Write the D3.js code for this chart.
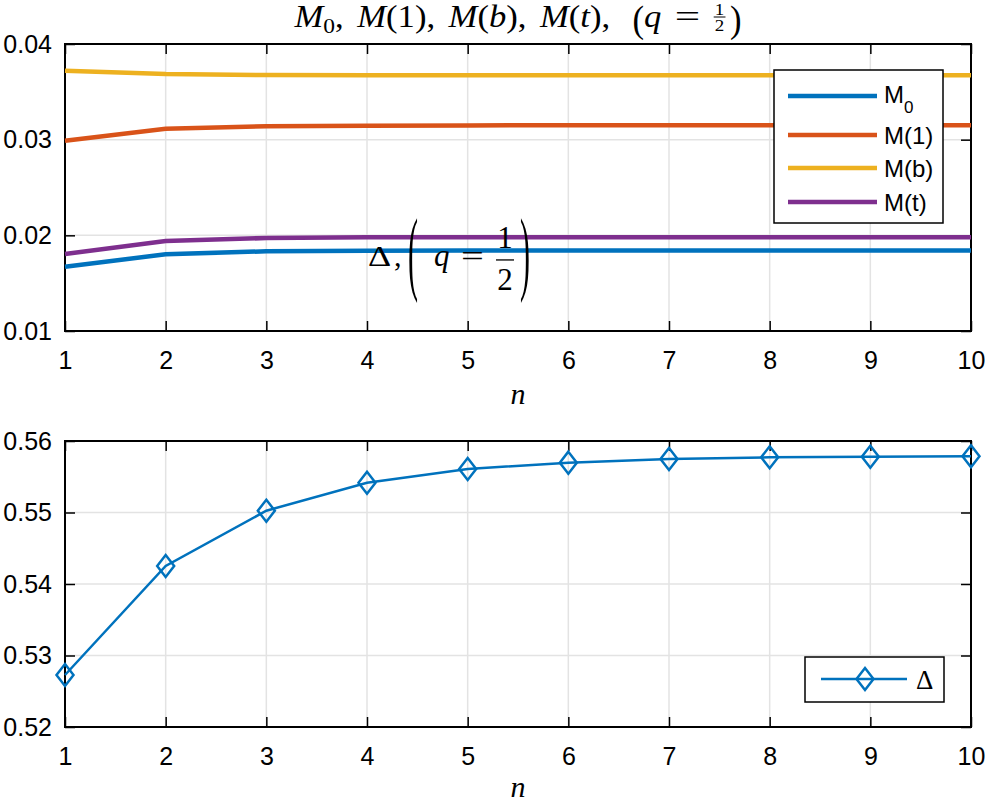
<!DOCTYPE html>
<html>
<head>
<meta charset="utf-8">
<script src="https://cdn.jsdelivr.net/npm/d3@7/dist/d3.min.js"></script>
<style>
  body { margin: 0; background: #fff; }
  text { font-family: "Liberation Sans", Arial, sans-serif; }
  .math text, text.math { font-family: "Liberation Serif", "DejaVu Serif", serif; }
</style>
</head>
<body>
<svg id="chart" width="985" height="802"></svg>
<script>
// data
const nValues = [1, 2, 3, 4, 5, 6, 7, 8, 9, 10];
const m0 = [0.01672, 0.01802, 0.01833, 0.01840, 0.01841, 0.01841, 0.01841, 0.01841, 0.01841, 0.01841];
const m1 = [0.02989, 0.03115, 0.03140, 0.03146, 0.03149, 0.03150, 0.03150, 0.03150, 0.03150, 0.03150];
const mb = [0.03721, 0.03686, 0.03676, 0.03674, 0.03673, 0.03673, 0.03673, 0.03673, 0.03673, 0.03673];
const mt = [0.01805, 0.01941, 0.01972, 0.01979, 0.01980, 0.01981, 0.01981, 0.01981, 0.01981, 0.01981];
const delta = [0.52727, 0.54252, 0.55025, 0.55417, 0.55608, 0.55697, 0.55748, 0.55772, 0.55780, 0.55786];

const topYTicks = [0.01, 0.02, 0.03, 0.04];
const bottomYTicks = [0.52, 0.53, 0.54, 0.55, 0.56];
const seriesNames = ["M", "M(1)", "M(b)", "M(t)"];
const seriesColors = ["#0072BD", "#D95319", "#EDB120", "#7E2F8E"];
const topSeries = [m0, m1, mb, mt];

const svg = d3.select("#chart");
const left = 65, right = 971;
const topBox = { top: 44, bottom: 331 };
const botBox = { top: 441, bottom: 727 };

const x = d3.scaleLinear().domain([1, 10]).range([left, right]);
const yTop = d3.scaleLinear().domain([0.01, 0.04]).range([topBox.bottom, topBox.top]);
const yBot = d3.scaleLinear().domain([0.52, 0.56]).range([botBox.bottom, botBox.top]);

function drawFrame(y, box, yTicks, fmt) {
  // grid
  const grid = svg.append("g");
  grid.selectAll(".gx").data(nValues.slice(1, -1)).enter().append("line")
    .attr("x1", d => x(d)).attr("x2", d => x(d))
    .attr("y1", box.top).attr("y2", box.bottom);
  grid.selectAll(".gy").data(yTicks.slice(1, -1)).enter().append("line")
    .attr("x1", left).attr("x2", right)
    .attr("y1", d => y(d)).attr("y2", d => y(d));
  grid.selectAll("line").attr("stroke", "#e3e3e3").attr("stroke-width", 1.5);

  // axes with inward ticks, mirrored on top/right
  const axB = svg.append("g").attr("transform", `translate(0,${box.bottom})`)
    .call(d3.axisBottom(x).tickValues(nValues).tickSize(-10).tickPadding(20).tickFormat(d3.format("d")));
  const axT = svg.append("g").attr("transform", `translate(0,${box.top})`)
    .call(d3.axisTop(x).tickValues(nValues).tickSize(-10).tickFormat(""));
  const axL = svg.append("g").attr("transform", `translate(${left},0)`)
    .call(d3.axisLeft(y).tickValues(yTicks).tickSize(-10).tickPadding(13).tickFormat(d3.format(fmt)));
  const axR = svg.append("g").attr("transform", `translate(${right},0)`)
    .call(d3.axisRight(y).tickValues(yTicks).tickSize(-10).tickFormat(""));
  [axB, axT, axL, axR].forEach(a => {
    a.select(".domain").remove();
    a.selectAll(".tick line").attr("stroke", "#000").attr("stroke-width", 1.5);
    a.selectAll("text").attr("fill", "#000").style("font-size", "25px")
      .style("font-family", '"Liberation Sans", Arial, sans-serif');
  });
}

function drawBox(box) {
  svg.append("rect").attr("x", left).attr("y", box.top)
    .attr("width", right - left).attr("height", box.bottom - box.top)
    .attr("fill", "none").attr("stroke", "#000").attr("stroke-width", 2);
}

// ---------- top panel ----------
drawFrame(yTop, topBox, topYTicks, ".2f");
drawBox(topBox);

const line = d3.line().x((d, i) => x(nValues[i]));
topSeries.forEach((vals, k) => {
  svg.append("path").datum(vals)
    .attr("fill", "none").attr("stroke", seriesColors[k]).attr("stroke-width", 4.5)
    .attr("d", line.y(d => yTop(d)));
});

// sequence of math pieces, laid out left to right
function mathLine(g, items, size) {
  let cx = 0;
  items.forEach(it => {
    if (it.sp) { cx += it.sp; return; }
    if (it.frac) {
      const fs = it.fs, w = fs * 0.62;
      g.append("text").attr("x", cx + w / 2).attr("y", it.num).attr("text-anchor", "middle")
        .style("font-size", fs + "px").text(it.frac[0]);
      g.append("line").attr("x1", cx).attr("x2", cx + w).attr("y1", it.bar).attr("y2", it.bar)
        .attr("stroke", "#000").attr("stroke-width", it.sw);
      g.append("text").attr("x", cx + w / 2).attr("y", it.den).attr("text-anchor", "middle")
        .style("font-size", fs + "px").text(it.frac[1]);
      cx += w;
      return;
    }
    const sx = it.sx || 1;
    const t = g.append("text")
      .attr("transform", `translate(${cx},${it.dy || 0}) scale(${sx},${it.sy || 1})`)
      .style("font-size", (it.fs || size) + "px")
      .style("font-style", it.i ? "italic" : "normal")
      .text(it.t);
    cx += t.node().getComputedTextLength() * sx;
  });
  return cx;
}

// title
const title = svg.append("g").attr("class", "math");
const titleInner = title.append("g");
const titleW = mathLine(titleInner, [
  { t: "M", i: true }, { t: "0", fs: 21, dy: 6 }, { t: "," }, { sp: 12 },
  { t: "M", i: true }, { t: "(1)," }, { sp: 12 },
  { t: "M", i: true }, { t: "(" }, { t: "b", i: true }, { t: ")," }, { sp: 12 },
  { t: "M", i: true }, { t: "(" }, { t: "t", i: true }, { t: ")," }, { sp: 20 },
  { t: "(", sy: 1.2, dy: 5 }, { t: "q", i: true }, { sp: 12 }, { t: "=", sx: 1.3 }, { sp: 12 },
  { frac: ["1", "2"], fs: 17, num: -12, bar: -10, den: 3.5, sw: 1 }, { sp: 4 },
  { t: ")", sy: 1.2, dy: 5 }
], 31);
const titleScale = Math.min(1.15, 447 / titleW);
titleInner.attr("transform", `scale(${titleScale},1)`);
title.attr("transform", `translate(${518 - titleW * titleScale / 2},27)`);

// annotation inside top panel
const ann = svg.append("g").attr("class", "math")
  .attr("transform", `translate(${x(4)},${yTop(0.0168)})`);
ann.append("text").attr("transform", "translate(1,0) scale(1.2,1)").style("font-size", "30px").text("Δ");
ann.append("text").attr("x", 27).attr("y", 0).style("font-size", "30px").text(",");
ann.append("text").attr("transform", "translate(41,17) scale(1,3.1)").style("font-size", "30px").text("(");
ann.append("text").attr("x", 67).attr("y", 0).style("font-size", "31px").style("font-style", "italic").text("q");
ann.append("text").attr("transform", "translate(94,0) scale(1.35,1)").style("font-size", "30px").text("=");
ann.append("text").attr("x", 138).attr("y", -18).attr("text-anchor", "middle").style("font-size", "31px").text("1");
ann.append("line").attr("x1", 129).attr("x2", 147).attr("y1", -6).attr("y2", -6).attr("stroke", "#000").attr("stroke-width", 1.3);
ann.append("text").attr("x", 138).attr("y", 24).attr("text-anchor", "middle").style("font-size", "31px").text("2");
ann.append("text").attr("transform", "translate(153,17) scale(1,3.1)").style("font-size", "30px").text(")");

// top legend
const legTop = svg.append("g");
legTop.append("rect").attr("x", 774).attr("y", 70).attr("width", 169).attr("height", 153)
  .attr("fill", "#fff").attr("stroke", "#000").attr("stroke-width", 1.5);
const rowY = [96, 135, 168, 202];
seriesNames.forEach((name, k) => {
  legTop.append("line").attr("x1", 788).attr("x2", 877).attr("y1", rowY[k]).attr("y2", rowY[k])
    .attr("stroke", seriesColors[k]).attr("stroke-width", 4.5);
  const t = legTop.append("text").attr("x", 884).attr("y", rowY[k] + (k === 0 ? 7 : 9))
    .style("font-size", "24px").text(name);
  if (k === 0) t.append("tspan").attr("dy", 10).style("font-size", "17px").text("0");
});

// x label
svg.append("text").attr("class", "math").attr("x", 518).attr("y", 404).attr("text-anchor", "middle")
  .style("font-size", "30px").style("font-style", "italic").text("n");

// ---------- bottom panel ----------
drawFrame(yBot, botBox, bottomYTicks, ".2f");
drawBox(botBox);

svg.append("path").datum(delta)
  .attr("fill", "none").attr("stroke", "#0072BD").attr("stroke-width", 2.5)
  .attr("d", d3.line().x((d, i) => x(nValues[i])).y(d => yBot(d)));

const diamond = "M0,-11L8.5,0L0,11L-8.5,0Z";
svg.selectAll(".dm").data(delta).enter().append("path")
  .attr("d", diamond)
  .attr("transform", (d, i) => `translate(${x(nValues[i])},${yBot(d)})`)
  .attr("fill", "none").attr("stroke", "#0072BD").attr("stroke-width", 2.5);

// bottom legend
const legBot = svg.append("g");
legBot.append("rect").attr("x", 805).attr("y", 657).attr("width", 139).attr("height", 45)
  .attr("fill", "#fff").attr("stroke", "#000").attr("stroke-width", 1.5);
legBot.append("line").attr("x1", 821).attr("x2", 907).attr("y1", 679).attr("y2", 679)
  .attr("stroke", "#0072BD").attr("stroke-width", 2.5);
legBot.append("path").attr("d", diamond).attr("transform", "translate(865,679)")
  .attr("fill", "none").attr("stroke", "#0072BD").attr("stroke-width", 2.5);
legBot.append("text").attr("class", "math").attr("x", 916).attr("y", 689)
  .style("font-size", "27px").text("Δ");

svg.append("text").attr("class", "math").attr("x", 518).attr("y", 797).attr("text-anchor", "middle")
  .style("font-size", "30px").style("font-style", "italic").text("n");
</script>
</body>
</html>
